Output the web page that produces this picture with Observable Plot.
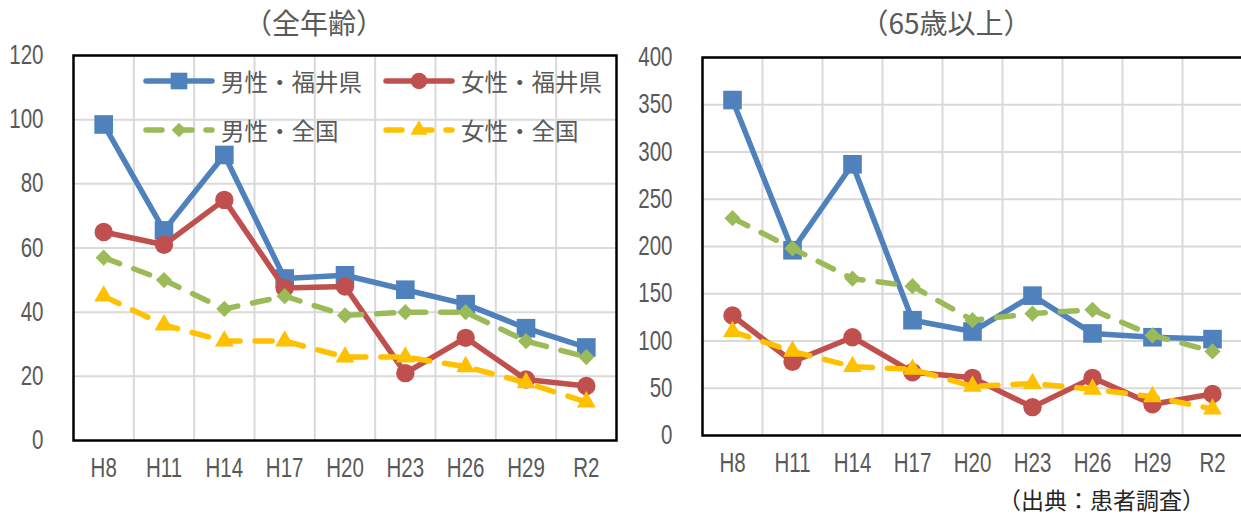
<!DOCTYPE html>
<html>
<head>
<meta charset="utf-8">
<script src="https://cdn.jsdelivr.net/npm/d3@7"></script>
<script src="https://cdn.jsdelivr.net/npm/@observablehq/plot@0.6"></script>
<style>
  html, body { margin: 0; padding: 0; background: #fff; overflow: hidden; }
  #wrap { position: relative; width: 1241px; height: 517px; overflow: hidden; }
  .panel { position: absolute; top: 0; }
  .title, .caption, .legend-item {
    position: absolute; white-space: nowrap;
    font-family: "Noto Sans CJK JP", "Noto Sans", sans-serif;
  }
  .title { font-size: 28px; color: #595959; top: 2px; transform: translateX(-50%); }
  .caption { font-size: 23px; color: #262626; left: 998px; top: 482px; }
  .legend-item { font-size: 23.5px; color: #595959; display: flex; align-items: center; height: 30px; }
  .legend-item svg { margin-right: 6px; }
</style>
</head>
<body>
<div id="wrap"></div>
<script>
// Survey years on the x axis
const categories = ["H8", "H11", "H14", "H17", "H20", "H23", "H26", "H29", "R2"];

// Series order, labels and look
const seriesNames = ["男性・福井県", "女性・福井県", "男性・全国", "女性・全国"];
const seriesColors = ["#4F81BD", "#C0504D", "#9BBB59", "#FFC000"];
const seriesSymbols = ["square", "circle", "diamond2", "triangle"];
const seriesDashed = [false, false, true, true];

// All ages
const allMaleFukui      = [98.5, 65.5, 89, 50.5, 51.5, 47, 42.5, 35, 29];
const allFemaleFukui    = [65, 61, 75, 47.5, 48, 21, 32, 19, 17];
const allMaleNational   = [57, 50, 41, 45, 39, 40, 40, 31, 26];
const allFemaleNational = [45, 36, 31, 31, 26, 26, 23, 18, 12];

// Aged 65 and over
const oldMaleFukui      = [355, 196, 287, 122, 110, 148, 108, 104, 102];
const oldFemaleFukui    = [127, 78, 104, 67, 61, 30, 61, 33, 44];
const oldMaleNational   = [230, 198, 166, 158, 122, 129, 133, 106, 89];
const oldFemaleNational = [110, 89, 73, 70, 52, 55, 49, 41, 28];

// Tick labels
const leftTicks = [0, 20, 40, 60, 80, 100, 120];
const rightTicks = [0, 50, 100, 150, 200, 250, 300, 350, 400];

const titles = ["（全年齢）", "（65歳以上）"];
const caption = "（出典：患者調査）";

const symbolRadius = {square: 10.5, circle: 9.2, diamond2: 7.3, triangle: 7};
const d3Symbols = {square: d3.symbolSquare, circle: d3.symbolCircle, diamond2: d3.symbolDiamond2, triangle: d3.symbolTriangle};
const tickFont = "'Liberation Sans', Arial, sans-serif";

function toRows(seriesList) {
  return seriesList.map((vals, s) => vals.map((v, i) => ({i, v, s})));
}

function chart(seriesList, ticks, opts) {
  const rowsBySeries = toRows(seriesList);
  const boundaries = d3.range(1, categories.length).map(k => k - 0.5);
  const marks = [
    Plot.ruleY(ticks.slice(1), {stroke: "#d9d9d9", strokeWidth: 2}),
    Plot.ruleX(boundaries, {stroke: "#d9d9d9", strokeWidth: 2}),
    Plot.axisY({ticks, label: null, tickSize: 0, tickPadding: 30, tickFormat: d => String(d)}),
    Plot.axisX({ticks: d3.range(categories.length), label: null, tickSize: 0, tickPadding: 17,
                tickFormat: i => categories[i]})
  ];
  rowsBySeries.forEach((rows, s) => {
    marks.push(Plot.line(rows, {
      x: "i", y: "v", stroke: seriesColors[s], strokeWidth: 5.5,
      strokeDasharray: seriesDashed[s] ? "17,15" : null,
      strokeLinecap: "round", strokeLinejoin: "round"
    }));
    marks.push(Plot.dot(rows, {
      x: "i", y: "v", symbol: () => seriesSymbols[s],
      r: symbolRadius[seriesSymbols[s]], fill: seriesColors[s], stroke: "none"
    }));
  });
  marks.push(Plot.frame({stroke: "#000", strokeWidth: 2.5}));
  const svg = Plot.plot({
    width: opts.width, height: 490,
    marginLeft: opts.marginLeft, marginRight: opts.marginRight,
    marginTop: opts.marginTop, marginBottom: opts.marginBottom,
    x: {type: "linear", domain: [-0.5, categories.length - 0.5], axis: null},
    y: {domain: [ticks[0], ticks[ticks.length - 1]], axis: null},
    symbol: {type: "identity"},
    style: {fontFamily: tickFont, fontSize: "27px", color: "#595959", background: "transparent", overflow: "visible"},
    marks
  });
  // narrow the tick labels horizontally around their anchor points
  d3.select(svg).selectAll("g[aria-label$='tick label'] text").each(function () {
    const t = this.getAttribute("transform") || "";
    this.setAttribute("transform", t + " scale(0.76,1)");
  });
  return svg;
}

const wrap = document.getElementById("wrap");

const left = chart([allMaleFukui, allFemaleFukui, allMaleNational, allFemaleNational], leftTicks,
  {width: 628, marginLeft: 73, marginRight: 12, marginTop: 55, marginBottom: 50});
left.classList.add("panel");
left.style.left = "0px";
wrap.appendChild(left);

const right = chart([oldMaleFukui, oldFemaleFukui, oldMaleNational, oldFemaleNational], rightTicks,
  {width: 614, marginLeft: 74, marginRight: 0, marginTop: 57, marginBottom: 55});
right.classList.add("panel");
right.style.left = "628px";
wrap.appendChild(right);

// Titles above each panel
[[titles[0], 314], [titles[1], 946]].forEach(([t, cx]) => {
  const d = document.createElement("div");
  d.className = "title";
  d.textContent = t;
  d.style.left = cx + "px";
  wrap.appendChild(d);
});

// Source note
const cap = document.createElement("div");
cap.className = "caption";
cap.textContent = caption;
wrap.appendChild(cap);

// Legend inside the left panel, two columns by two rows
const legendPos = [[143, 66], [383, 66], [143, 115], [383, 115]];
seriesNames.forEach((name, s) => {
  const item = document.createElement("div");
  item.className = "legend-item";
  item.style.left = legendPos[s][0] + "px";
  item.style.top = legendPos[s][1] + "px";
  const sw = d3.create("svg").attr("width", 72).attr("height", 30);
  sw.append("line").attr("x1", 3).attr("x2", 69).attr("y1", 15).attr("y2", 15)
    .attr("stroke", seriesColors[s]).attr("stroke-width", 5.5).attr("stroke-linecap", "round")
    .attr("stroke-dasharray", seriesDashed[s] ? "16,14" : null);
  const sym = d3.symbol(d3Symbols[seriesSymbols[s]], Math.PI * symbolRadius[seriesSymbols[s]] ** 2 * 0.8);
  sw.append("path").attr("d", sym()).attr("transform", "translate(36,15)").attr("fill", seriesColors[s]);
  item.appendChild(sw.node());
  const span = document.createElement("span");
  span.textContent = name;
  item.appendChild(span);
  wrap.appendChild(item);
});
</script>
</body>
</html>
